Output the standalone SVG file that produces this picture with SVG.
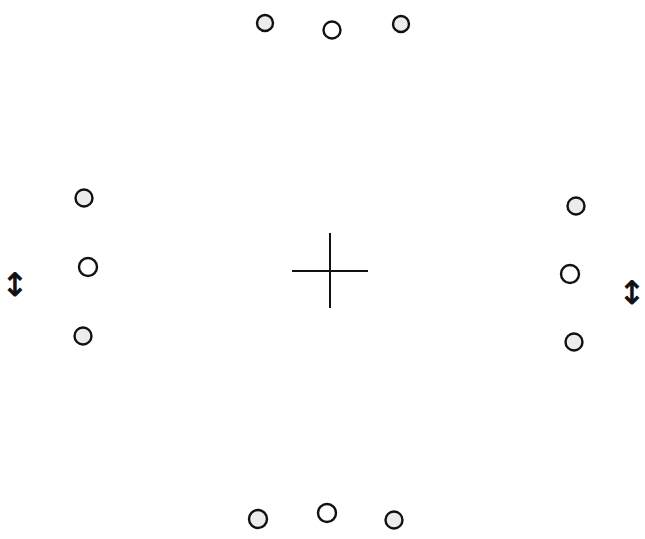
<svg xmlns="http://www.w3.org/2000/svg" width="645" height="539" viewBox="0 0 645 539">
<style>
.c{fill:#ffffff;stroke:#111;stroke-width:2.4}
.s{fill:#ececec;stroke:#111;stroke-width:2.4}
.x{stroke:#111;stroke-width:2;fill:none}
.a{font-family:"DejaVu Sans",sans-serif;font-size:32px;fill:#111;stroke:#111;stroke-width:0.8;text-anchor:middle}
</style>
<rect width="645" height="539" fill="#ffffff"/>
<g id="top">
<g id="t1"><circle class="s" cx="265" cy="23" r="8"/></g>
<g id="t2"><circle class="c" cx="332" cy="30" r="8.5"/></g>
<g id="t3"><circle class="s" cx="401" cy="24" r="8"/></g>
</g>
<g id="left">
<g id="l1"><circle class="s" cx="84" cy="198" r="8.5"/></g>
<g id="l2"><circle class="c" cx="88" cy="267" r="9"/></g>
<g id="l3"><circle class="s" cx="83" cy="336" r="8.5"/></g>
<g id="la"><text class="a" x="15" y="296">↕</text></g>
</g>
<g id="right">
<g id="r1"><circle class="s" cx="576" cy="206" r="8.5"/></g>
<g id="r2"><circle class="c" cx="570" cy="274" r="9"/></g>
<g id="r3"><circle class="s" cx="574" cy="342" r="8.5"/></g>
<g id="ra"><text class="a" x="632" y="304">↕</text></g>
</g>
<g id="bottom">
<g id="b1"><circle class="s" cx="258" cy="519" r="9"/></g>
<g id="b2"><circle class="c" cx="327" cy="513" r="9"/></g>
<g id="b3"><circle class="s" cx="394" cy="520" r="8.5"/></g>
</g>
<g id="cross">
<line class="x" x1="330" y1="233" x2="330" y2="308"/>
<line class="x" x1="292" y1="271" x2="368" y2="271"/>
</g>
<g id="connectors"></g>
</svg>
